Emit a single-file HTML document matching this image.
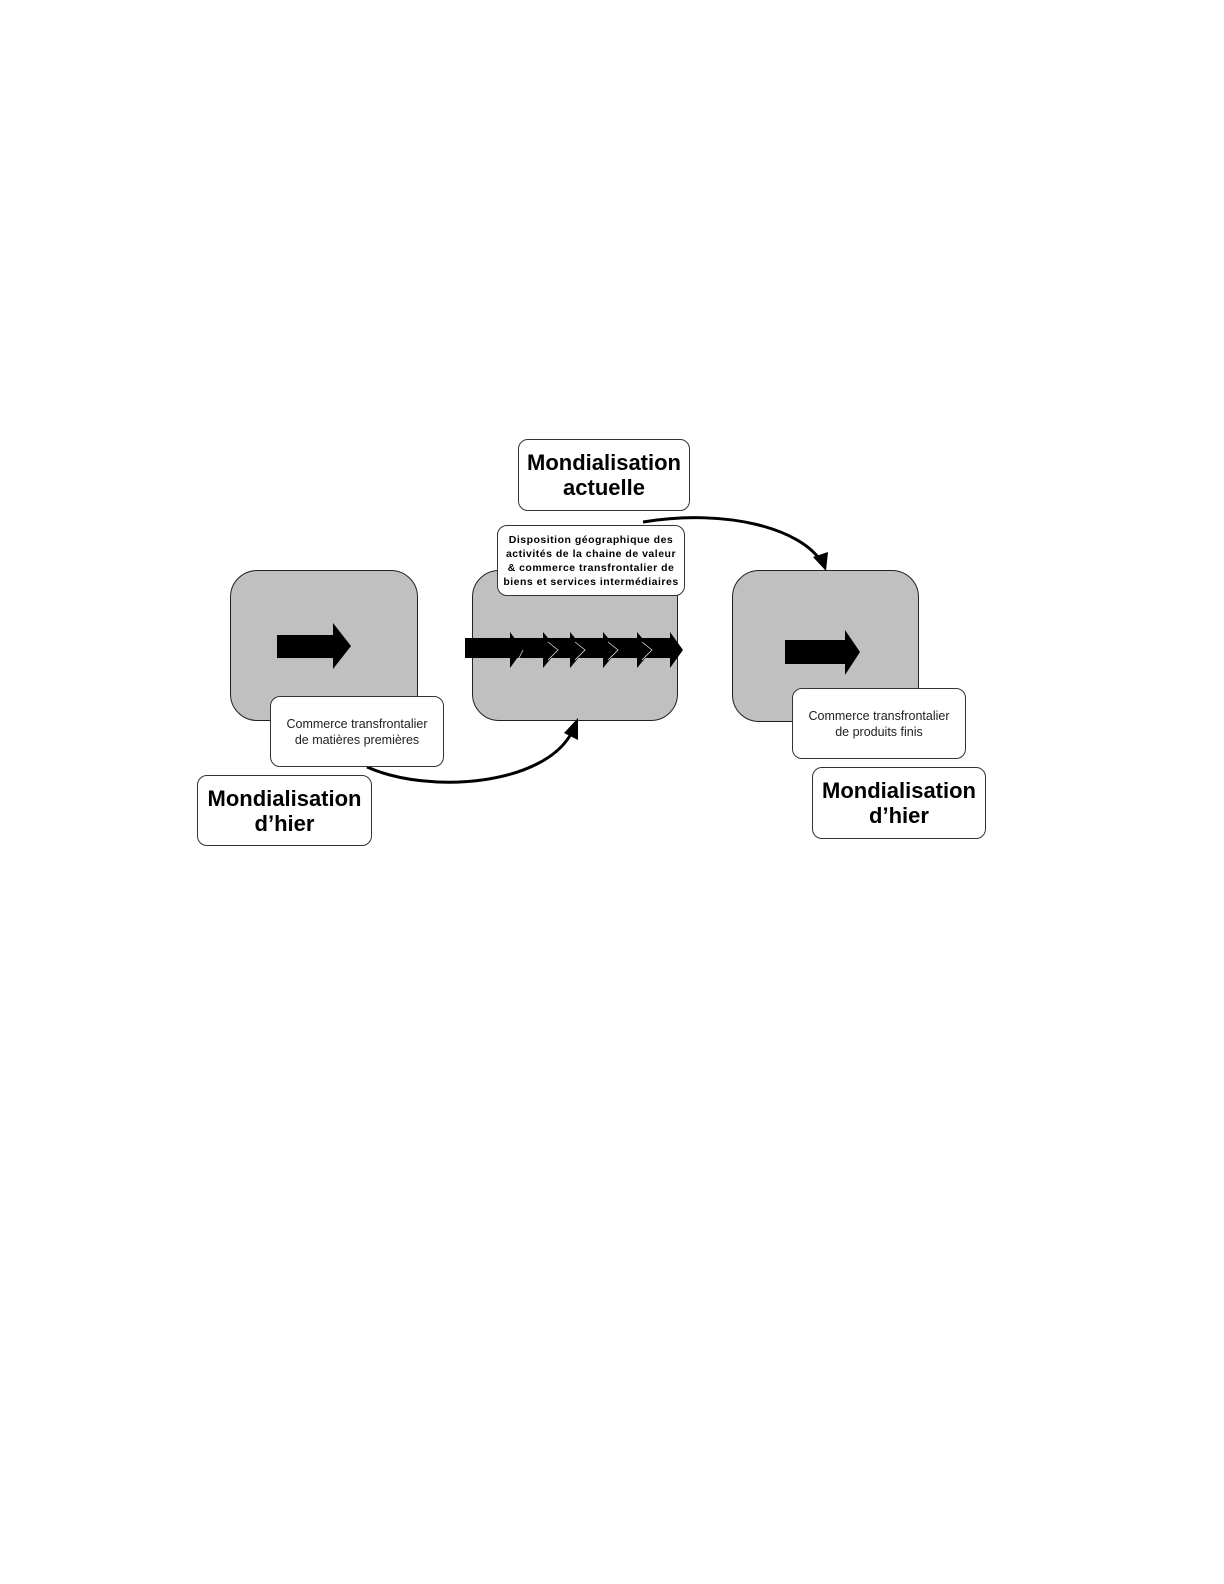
<!DOCTYPE html>
<html><head><meta charset="utf-8"><style>
body{margin:0;background:#fff;width:1224px;height:1584px;position:relative;font-family:"Liberation Sans",sans-serif;overflow:hidden}
.g{position:absolute;background:#c0c0c0;border:1.5px solid #222;border-radius:27px;box-sizing:border-box}
.w{position:absolute;background:#fff;border:1.5px solid #333;border-radius:10px;box-sizing:border-box;display:flex;align-items:center;justify-content:center;text-align:center}
.big{font-weight:bold;font-size:22px;line-height:25px;color:#000}
.sm{font-size:12.5px;line-height:16px;color:#222}
svg{position:absolute;left:0;top:0}
</style></head><body>
<div class="g" style="left:230px;top:570px;width:188px;height:151px"></div>
<div class="g" style="left:472px;top:570px;width:206px;height:151px"></div>
<div class="g" style="left:732px;top:570px;width:187px;height:152px"></div>
<svg width="1224" height="1584">
<polygon points="277,635 333,635 333,623 351,646 333,669 333,658 277,658" fill="#000"/>
<polygon points="785,640 845,640 845,630 860,652 845,675 845,664 785,664" fill="#000"/>
<rect x="465" y="638" width="205" height="20" fill="#000"/>
<g fill="#000">
<polygon points="510,632 523,650 510,668"/>
<polygon points="543,632 558,650 543,668"/>
<polygon points="570,632 585,650 570,668"/>
<polygon points="603,632 618,650 603,668"/>
<polygon points="637,632 652,650 637,668"/>
<polygon points="670,632 683,650 670,668"/>
</g>
<g fill="none" stroke="#ddd" stroke-width="0.8">
<polyline points="523,650 518,660"/>
<polyline points="548,642 558,650 548,660"/>
<polyline points="575,642 585,650 575,660"/>
<polyline points="608,642 618,650 608,660"/>
<polyline points="642,642 652,650 642,660"/>
</g>
<path d="M367,767 C430,795 545,785 572,732" fill="none" stroke="#000" stroke-width="3"/>
<polygon points="564,733 578,718 578,740" fill="#000"/>
<path d="M643,522 C730,508 800,530 820,560" fill="none" stroke="#000" stroke-width="3"/>
<polygon points="813,557 826,571 828,552" fill="#000"/>
</svg>
<div class="w sm" style="left:270px;top:696px;width:174px;height:71px">Commerce transfrontalier<br>de matières premières</div>
<div class="w big" style="left:197px;top:775px;width:175px;height:71px">Mondialisation<br>d’hier</div>
<div class="w big" style="left:518px;top:439px;width:172px;height:72px">Mondialisation<br>actuelle</div>
<div class="w" style="left:497px;top:525px;width:188px;height:71px;font-weight:bold;font-size:10.5px;line-height:14px;letter-spacing:0.5px">Disposition géographique des<br>activités de la chaine de valeur<br>&amp; commerce transfrontalier de<br>biens et services intermédiaires</div>
<div class="w sm" style="left:792px;top:688px;width:174px;height:71px">Commerce transfrontalier<br>de produits finis</div>
<div class="w big" style="left:812px;top:767px;width:174px;height:72px">Mondialisation<br>d’hier</div>
</body></html>
